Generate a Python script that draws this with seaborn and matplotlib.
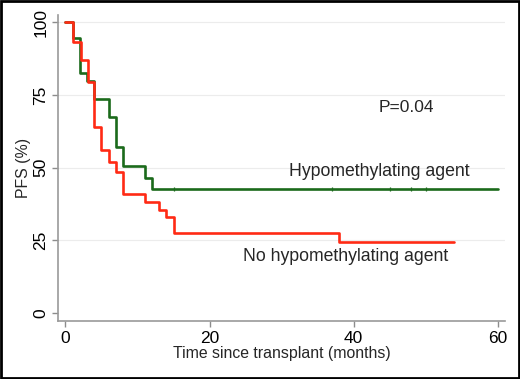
import pandas as pd
import matplotlib
matplotlib.use("Agg")
import matplotlib.pyplot as plt
import seaborn as sns

# -------- DATA --------
hma_time = [0, 1.0, 2.0, 3.0, 4.0, 6.0, 7.0, 8.0, 11.0, 12.0, 60.0]
hma_surv = [100, 94.5, 82.7, 80.0, 73.8, 67.3, 57.3, 50.6, 46.5, 42.8, 42.8]
hma_cens_time = [15.0, 37.0, 45.0, 48.0, 50.0]

no_time = [0, 1.1, 2.1, 3.1, 4.0, 5.0, 6.0, 7.0, 8.0, 11.0, 13.0, 14.0, 15.0, 38.0, 54.0]
no_surv = [100, 93.2, 87.0, 79.5, 64.0, 56.2, 52.0, 48.5, 41.0, 38.2, 35.6, 33.2, 27.6, 24.4, 24.4]

x_ticks = [0, 20, 40, 60]
y_ticks = [0, 25, 50, 75, 100]

# -------- DATAFRAMES --------
curves = pd.concat([
    pd.DataFrame({"time": hma_time, "surv": hma_surv, "group": "Hypomethylating agent"}),
    pd.DataFrame({"time": no_time, "surv": no_surv, "group": "No hypomethylating agent"}),
], ignore_index=True)
cens = pd.DataFrame({"time": hma_cens_time, "surv": [hma_surv[-1]] * len(hma_cens_time)})

colors = {"Hypomethylating agent": "#1b6a1b", "No hypomethylating agent": "#ff2a14"}

# -------- PLOT --------
sns.set_style("white")
plt.rcParams["font.family"] = ["Liberation Sans", "DejaVu Sans"]

fig = plt.figure(figsize=(5.2, 3.79), dpi=100)
ax = fig.add_axes([0.112, 0.153, 0.859, 0.807])

for y in y_ticks[1:]:
    ax.axhline(y, color="#ececec", lw=0.8, zorder=0)

sns.lineplot(data=curves, x="time", y="surv", hue="group", palette=colors,
             drawstyle="steps-post", estimator=None, sort=False, lw=1.9,
             legend=False, ax=ax)
sns.scatterplot(data=cens, x="time", y="surv", marker="|", s=10, color="#1b6a1b",
                linewidth=0.9, legend=False, ax=ax, zorder=3)

ax.set_xlim(-1.0, 61.0)
ax.set_ylim(-2.7, 102.5)
ax.set_xticks(x_ticks)
ax.set_yticks(y_ticks)
ax.set_yticklabels([str(v) for v in y_ticks], rotation=90, va="center")
ax.tick_params(axis="both", colors="#8c8c8c", labelcolor="black", labelsize=12.5,
               length=4, width=1, direction="out", left=True, bottom=True, pad=3)
ax.set_xlabel("Time since transplant (months)", fontsize=11.4, labelpad=0)
ax.set_ylabel("PFS (%)", fontsize=11.4, labelpad=2)

for side in ["top", "right"]:
    ax.spines[side].set_visible(False)
for side in ["left", "bottom"]:
    ax.spines[side].set_color("#9a9a9a")
    ax.spines[side].set_linewidth(1.2)

ax.text(47.3, 70.7, "P=0.04", fontsize=12.5, ha="center", va="center")
ax.text(43.6, 48.7, "Hypomethylating agent", fontsize=12.7, ha="center", va="center")
ax.text(38.9, 19.5, "No hypomethylating agent", fontsize=12.7, ha="center", va="center")

# black frame around the whole figure
fig.patches.append(plt.Rectangle((0.002, 0.003), 0.996, 0.994, transform=fig.transFigure,
                                 fill=False, edgecolor="black", lw=2))

fig.savefig("out.png", dpi=100)
